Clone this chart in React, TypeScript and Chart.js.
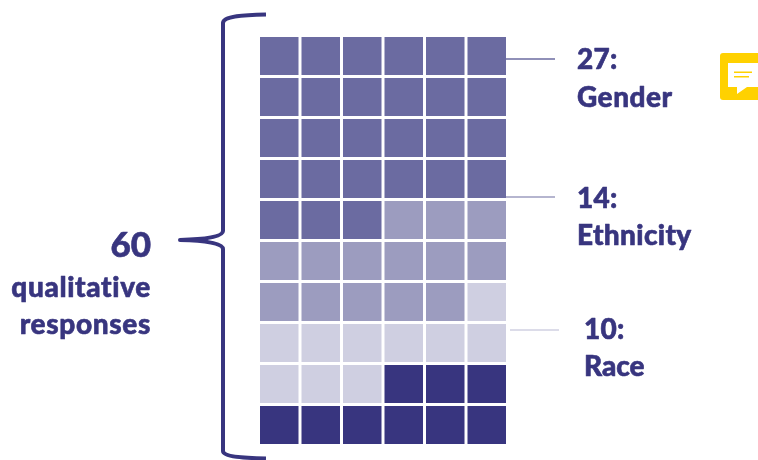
import React, { useEffect, useRef } from "react";
import { Chart, registerables } from "chart.js";

Chart.register(...registerables);

const columns = ["1", "2", "3", "4", "5", "6"];
const rowCount = 10;
const segmentNames = ["Gender", "Ethnicity", "Race", "Other"];
const segmentCounts = [27, 14, 10, 9];
const segmentColors = ["#6B6BA1", "#9C9CBF", "#CFCFE1", "#38357F"];
const NAVY = "#38357F";
const FONT = "Lato, Carlito, sans-serif";

const cellColors: string[] = [];
segmentCounts.forEach((count, i) => {
  for (let k = 0; k < count; k++) cellColors.push(segmentColors[i]);
});

const rows = Array.from({ length: rowCount }, (_, r) => ({
  label: `row ${r + 1}`,
  data: columns.map(() => 1),
  backgroundColor: columns.map((_, c) => cellColors[r * columns.length + c]),
  borderColor: "#FFFFFF",
  borderWidth: 1.5,
  borderSkipped: false as const,
  inflateAmount: 0,
  barPercentage: 1,
  categoryPercentage: 1,
  stack: "waffle",
}));

const annotations = {
  id: "annotations",
  afterDraw(chart: Chart) {
    const ctx = chart.ctx;
    ctx.save();

    // Brace
    ctx.strokeStyle = NAVY;
    ctx.lineWidth = 4;
    ctx.lineCap = "butt";
    ctx.lineJoin = "round";
    ctx.beginPath();
    ctx.moveTo(266, 14.5);
    ctx.bezierCurveTo(245, 15, 223, 16, 223, 23);
    ctx.lineTo(223, 231);
    ctx.bezierCurveTo(223, 237, 205, 239.5, 180, 240);
    ctx.bezierCurveTo(205, 240.5, 223, 243, 223, 249);
    ctx.lineTo(223, 451);
    ctx.bezierCurveTo(223, 457, 245, 458, 266, 458.5);
    ctx.stroke();

    // Leader lines
    const leaders: [number, number, number, string, number][] = [
      [506, 555, 59, "#6B6BA1", 1.5],
      [506, 555, 197, "#9C9CBF", 1.5],
      [510, 559, 330, "#DCDCE9", 2],
    ];
    leaders.forEach(([x0, x1, y, color, w]) => {
      ctx.strokeStyle = color;
      ctx.lineWidth = w;
      ctx.beginPath();
      ctx.moveTo(x0, y);
      ctx.lineTo(x1, y);
      ctx.stroke();
    });

    // Text
    ctx.fillStyle = NAVY;
    ctx.strokeStyle = NAVY;
    ctx.lineWidth = 0.6;
    ctx.lineJoin = "round";
    ctx.textBaseline = "alphabetic";
    (ctx as any).fontVariantLigatures = "none";
    (ctx as any).textRendering = "optimizeSpeed";
    const labels: [string, number, number, number, CanvasTextAlign, number][] = [
      ["60", 151, 256.5, 35, "right", 0],
      ["qualitative", 151, 297, 28, "right", 0.65],
      ["responses", 151, 334, 28, "right", 0.65],
      [`${segmentCounts[0]}:`, 577, 69, 28, "left", 0.3],
      [segmentNames[0], 577, 107, 28, "left", 0.5],
      [`${segmentCounts[1]}:`, 577, 208, 28, "left", 0.3],
      [segmentNames[1], 577, 245, 28, "left", 0.35],
      [`${segmentCounts[2]}:`, 584, 339, 28, "left", 0.3],
      [segmentNames[2], 584, 376, 28, "left", 0],
    ];
    labels.forEach(([text, x, y, size, align, spacing]) => {
      ctx.font = `900 ${size}px ${FONT}`;
      (ctx as any).letterSpacing = `${spacing}px`;
      ctx.textAlign = align;
      ctx.fillText(text, x, y);
      ctx.strokeText(text, x, y);
    });
    (ctx as any).letterSpacing = "0px";

    // Note icon
    ctx.fillStyle = "#FFD100";
    ctx.beginPath();
    ctx.roundRect(720, 53, 50, 47, 3);
    ctx.fill();
    ctx.fillStyle = "#FFFFFF";
    ctx.beginPath();
    ctx.moveTo(728, 63);
    ctx.lineTo(758, 63);
    ctx.lineTo(758, 87);
    ctx.lineTo(747, 87);
    ctx.lineTo(737, 94);
    ctx.lineTo(737, 87);
    ctx.lineTo(728, 87);
    ctx.closePath();
    ctx.fill();
    ctx.fillStyle = "#FFD100";
    ctx.fillRect(734, 71.5, 18, 1.5);
    ctx.fillRect(734, 76, 15, 1.5);

    ctx.restore();
  },
};

export default function App() {
  const ref = useRef<HTMLCanvasElement>(null);
  useEffect(() => {
    const chart = new Chart(ref.current!, {
      type: "bar",
      data: { labels: columns, datasets: rows as any },
      options: {
        animation: false,
        responsive: false,
        devicePixelRatio: 1,
        layout: { padding: { left: 258.5, right: 250.5, top: 35.5, bottom: 14.5 } },
        plugins: { legend: { display: false }, tooltip: { enabled: false } },
        scales: {
          x: { display: false, stacked: true, offset: true },
          y: { display: false, stacked: true, reverse: true, min: 0, max: rowCount },
        },
      },
      plugins: [annotations],
    });
    return () => chart.destroy();
  }, []);
  return (
    <canvas
      ref={ref}
      width={758}
      height={460}
      style={{ position: "fixed", left: 0, top: 0, width: 758, height: 460 }}
    />
  );
}
